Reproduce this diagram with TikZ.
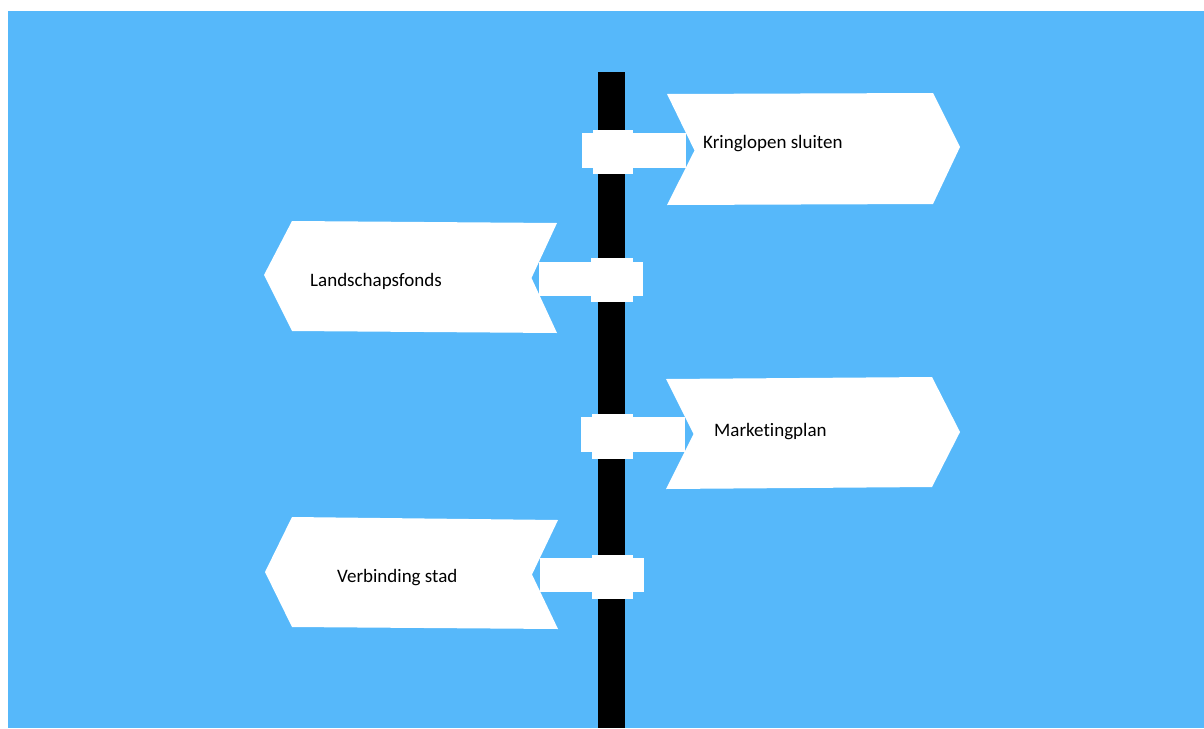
\documentclass[tikz,border=0pt]{standalone}
\usepackage{fontspec}
\setmainfont[Ligatures={NoCommon,NoContextual}]{Carlito}
\definecolor{sky}{RGB}{86,184,250}
\begin{document}
\begin{tikzpicture}[x=1pt,y=-1pt,
  board/.style={fill=white,draw=none},
  lbl/.style={anchor=base west,inner sep=0pt,font=\fontsize{19}{23}\selectfont,text=black}]
\useasboundingbox (0,0) rectangle (1204,728);
\fill[white] (0,0) rectangle (1204,728);
\fill[sky] (8,11) rectangle (1204,728);
% pole
\fill[black] (598,72) rectangle (625,728);
% sign 1 (right)
\fill[board] (667,94) -- (933,93) -- (960,147) -- (933,204) -- (667,205) -- (694.5,150.5) -- cycle;
\fill[board] (582,133) rectangle (686,168);
\fill[board] (593,130) rectangle (633,174);
% sign 2 (left)
\fill[board] (292,221) -- (557,223) -- (531.5,278) -- (557,333) -- (292,331) -- (264,275) -- cycle;
\fill[board] (539,262) rectangle (643,296);
\fill[board] (591,258) rectangle (633,302);
% sign 3 (right)
\fill[board] (666,379) -- (932,377) -- (960,432) -- (932,487) -- (666,489) -- (693.5,434) -- cycle;
\fill[board] (581,417) rectangle (685,452);
\fill[board] (592,414) rectangle (633,459);
% sign 4 (left)
\fill[board] (292,517) -- (558,520) -- (532,574.5) -- (558,629) -- (292,627) -- (265,572) -- cycle;
\fill[board] (540,558) rectangle (644,592);
\fill[board] (592,555) rectangle (633,599);
% labels
\node[lbl] (t1) at (703,148) {Kringlopen sluiten};
\node[lbl] (t2) at (310,286) {Landschapsfonds};
\node[lbl] (t3) at (714,436) {Marketingplan};
\node[lbl] (t4) at (337,582) {Verbinding stad};
\end{tikzpicture}
\end{document}
